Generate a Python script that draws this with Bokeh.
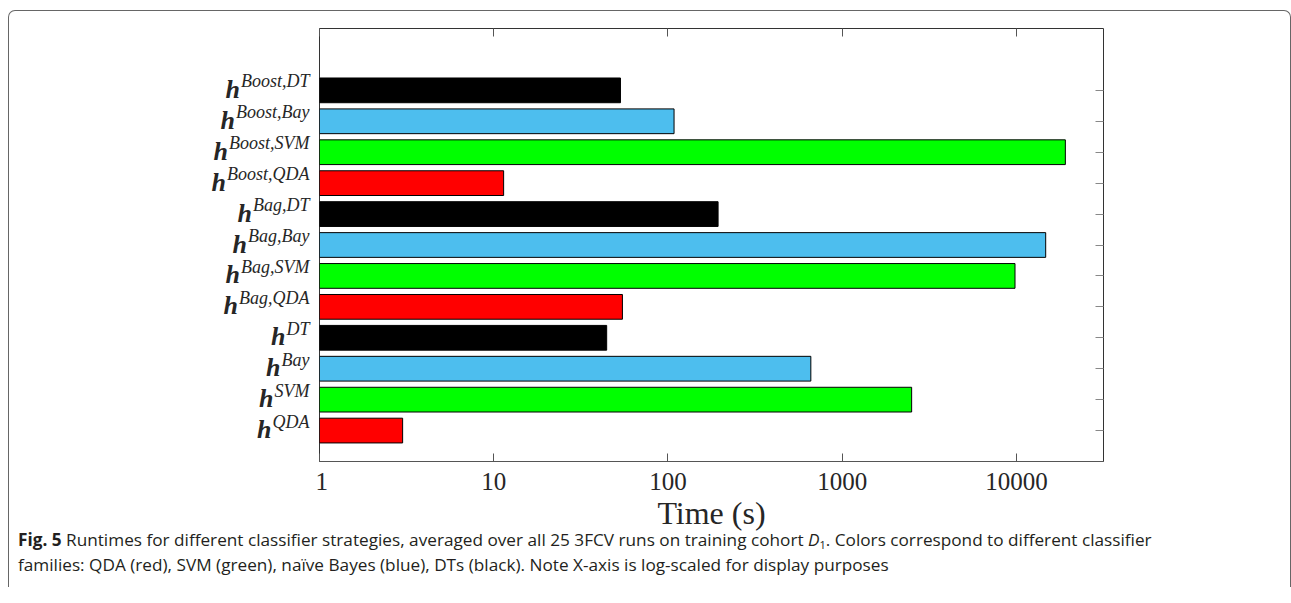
import math
from bokeh.plotting import figure
from bokeh.models import (ColumnDataSource, LinearAxis, LogAxis,
                          FixedTicker, Range1d, Div)
from bokeh.layouts import column, row
from bokeh.core.properties import value
from bokeh.embed import file_html
from bokeh.resources import INLINE

# ---------------- data (bottom to top) ----------------
classifiers = ["QDA", "SVM", "Bay", "DT",
               "Bag,QDA", "Bag,SVM", "Bag,Bay", "Bag,DT",
               "Boost,QDA", "Boost,SVM", "Boost,Bay", "Boost,DT"]
families = ["QDA", "SVM", "Bay", "DT",
            "QDA", "SVM", "Bay", "DT",
            "QDA", "SVM", "Bay", "DT"]
runtimes = [3.0, 2505, 661, 44.5,
            54.8, 9820, 14730, 194,
            11.4, 19100, 108.4, 53.4]
x_ticks = [1, 10, 100, 1000, 10000]
x_tick_labels = ["1", "10", "100", "1000", "10000"]
x_min = 1
x_max = 10 ** 4.5
x_label = "Time (s)"

# ---------------- styles ----------------
family_colors = {"QDA": "#FF0000", "SVM": "#00FF00", "Bay": "#4DBEEE", "DT": "#000000"}
SERIF = "Liberation Serif"
TXT = "#262626"
AX = "#555555"
SUP_PX = 18
H_PX = 26
# Times / Liberation Serif Italic advance widths (per 1000 em)
ITALIC_W = {"B": 611, "o": 500, "s": 389, "t": 278, ",": 250, "D": 722, "T": 556,
            "a": 500, "y": 444, "S": 500, "V": 611, "M": 833, "Q": 722, "A": 611,
            "g": 500}

n = len(classifiers)
positions = list(range(1, n + 1))
colors = [family_colors[f] for f in families]

src = ColumnDataSource(dict(y=positions, right=runtimes, color=colors, name=classifiers))

FW, FH = 784, 433
TOP, BOTTOM = 17, 85
PANEL_W = 306          # width of the tick-label panel left of the plot
P_LEFT = 4             # plot's own left border
LABEL_GAP = 10         # gap between label right edge and plot frame

y_range = Range1d(0, n + 2)

p = figure(x_axis_type="log", x_range=Range1d(x_min, x_max), y_range=y_range,
           frame_width=FW, frame_height=FH, y_axis_location=None,
           min_border_left=P_LEFT, min_border_right=1281 - PANEL_W - P_LEFT - FW,
           min_border_top=TOP, min_border_bottom=BOTTOM,
           output_backend="svg", toolbar_location=None)
p.border_fill_color = None
p.background_fill_color = "white"
p.outline_line_color = "#333333"
p.outline_line_width = 1
p.xgrid.visible = False
p.ygrid.visible = False

p.hbar(y="y", left=x_min, right="right", height=0.8, fill_color="color",
       line_color="black", line_width=1, source=src)

HIDDEN = dict(major_label_text_font_size="1px", major_label_text_alpha=0.0,
              major_label_standoff=0)

# bottom axis
xa = p.xaxis[0]
xa.ticker = FixedTicker(ticks=x_ticks)
xa.major_label_overrides = {t: l for t, l in zip(x_ticks, x_tick_labels)}
xa.minor_tick_line_color = None
xa.major_tick_in = 8
xa.major_tick_out = 0
xa.major_tick_line_color = AX
xa.axis_line_color = AX
xa.major_label_text_font = SERIF
xa.major_label_text_font_size = "25px"
xa.major_label_text_color = TXT
xa.major_label_standoff = 11
xa.axis_label = x_label
xa.axis_label_text_font = SERIF
xa.axis_label_text_font_size = "32px"
xa.axis_label_text_font_style = "normal"
xa.axis_label_text_color = TXT
xa.axis_label_standoff = 2

# mirrored axes
top = LogAxis(ticker=FixedTicker(ticks=x_ticks), major_tick_in=8, major_tick_out=0,
              minor_tick_line_color=None, major_tick_line_color=AX, axis_line_color=None,
              **HIDDEN)
p.add_layout(top, "above")
right = LinearAxis(ticker=FixedTicker(ticks=positions), major_tick_in=8, major_tick_out=0,
                   minor_tick_line_color=None, major_tick_line_color="#888888",
                   axis_line_color=None, **HIDDEN)
p.add_layout(right, "right")

# ---------------- tick-label panel (shares the y range) ----------------
lab = figure(x_range=Range1d(0, PANEL_W), y_range=y_range,
             frame_width=PANEL_W, frame_height=FH,
             min_border_left=0, min_border_right=0,
             min_border_top=TOP, min_border_bottom=BOTTOM,
             x_axis_location=None, y_axis_location=None,
             output_backend="svg", toolbar_location=None)
lab.outline_line_color = None
lab.background_fill_color = None
lab.border_fill_color = None
lab.xgrid.visible = False
lab.ygrid.visible = False

x_right = PANEL_W - (LABEL_GAP - P_LEFT)
sup_w = [sum(ITALIC_W.get(c, 500) for c in s) * SUP_PX / 1000.0 for s in classifiers]
lab_src = ColumnDataSource(dict(
    y=positions, sup=classifiers, h=["h"] * n,
    x_sup=[x_right] * n, x_h=[x_right - w - 1 for w in sup_w]))
lab.text(x="x_sup", y="y", text="sup", source=lab_src, y_offset=-9,
         text_align="right", text_baseline="alphabetic",
         text_font=value(SERIF), text_font_style="italic",
         text_font_size=f"{SUP_PX}px", text_color=TXT)
lab.text(x="x_h", y="y", text="h", source=lab_src, y_offset=-1,
         text_align="right", text_baseline="alphabetic",
         text_font=value(SERIF), text_font_style="bold italic",
         text_font_size=f"{H_PX}px", text_color=TXT)

caption = Div(
    text=('<div style="font-family:\'Open Sans\';font-size:17.2px;line-height:25px;'
          'color:#231f20;padding-left:9px;white-space:nowrap;">'
          '<b>Fig. 5</b> Runtimes for different classifier strategies, averaged over all 25 '
          '3FCV runs on training cohort <i>D</i><span style="font-size:11px;'
          'vertical-align:-3px;line-height:0;">1</span>. Colors correspond to different '
          'classifier<br>families: QDA (red), SVM (green), na\u00efve Bayes (blue), DTs '
          '(black). Note X-axis is log-scaled for display purposes</div>'),
    width=1281, height=60, margin=(-19, 0, 0, 0))

layout = column(row(lab, p, spacing=0), caption, spacing=0,
                styles={"border": "1px solid #666666", "border-bottom": "none",
                        "border-radius": "7px 7px 0 0", "margin": "10px 0 0 8px",
                        "background": "white"})

open("out.html", "w").write(file_html(layout, INLINE))
